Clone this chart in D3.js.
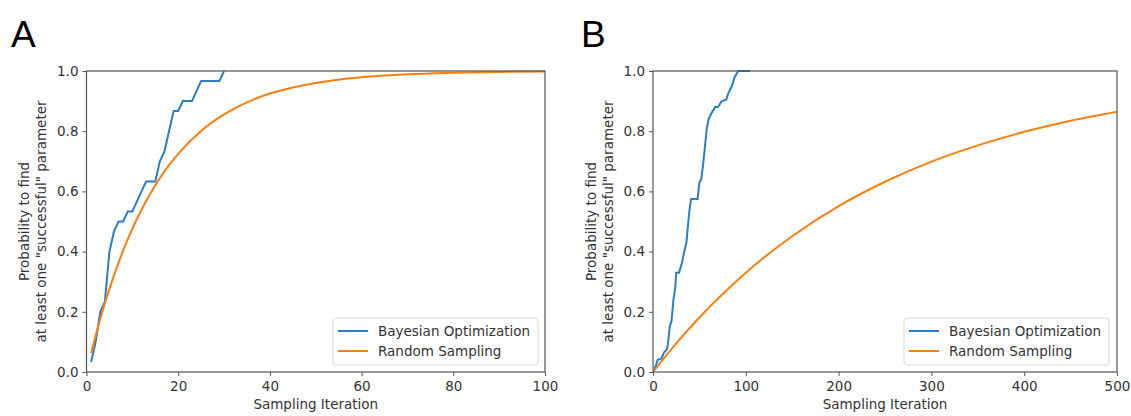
<!DOCTYPE html>
<html>
<head>
<meta charset="utf-8">
<script src="https://cdn.jsdelivr.net/npm/d3@7"></script>
<style>
  html, body { margin: 0; padding: 0; background: #fff; }
  svg { display: block; font-family: "DejaVu Sans", sans-serif; }
</style>
</head>
<body>
<svg id="chart" width="1131" height="416"></svg>
<script>
// ---------- data ----------
const panelLabels = ["A", "B"];
const seriesNames = ["Bayesian Optimization", "Random Sampling"];
const yTicks = [0.0, 0.2, 0.4, 0.6, 0.8, 1.0];
const xTicksA = [0, 20, 40, 60, 80, 100];
const xTicksB = [0, 100, 200, 300, 400, 500];

// Panel A (iteration, probability)
const bayesA_x = [1, 2, 3, 4, 5, 6, 7, 8, 9, 10, 11, 12, 13, 14, 15, 16, 17, 18, 19, 20, 21, 22, 23, 24, 25, 26, 27, 28, 29, 30];
const bayesA_y = [0.033, 0.1, 0.2, 0.233, 0.4, 0.467, 0.5, 0.5, 0.533, 0.533, 0.567, 0.6, 0.633, 0.633, 0.633, 0.7, 0.733, 0.8, 0.867, 0.867, 0.9, 0.9, 0.9, 0.933, 0.967, 0.967, 0.967, 0.967, 0.967, 1.0];
const randA_x = [1, 2, 3, 4, 5, 6, 8, 10, 12, 14, 16, 18, 20, 25, 30, 35, 40, 45, 50, 60, 70, 80, 90, 100];
const randA_y = [0.063, 0.121, 0.176, 0.228, 0.276, 0.321, 0.404, 0.476, 0.539, 0.595, 0.644, 0.687, 0.725, 0.801, 0.856, 0.896, 0.925, 0.945, 0.960, 0.979, 0.989, 0.994, 0.997, 0.998];

// Panel B
const bayesB_x = [1, 3, 5, 9, 12, 15, 16, 18, 20, 22, 24, 25, 28, 31, 33, 36, 39, 41, 48, 50, 52, 54, 58, 60, 63, 67, 70, 74, 79, 81, 85, 88, 92, 105];
const bayesB_y = [0.01, 0.02, 0.04, 0.045, 0.065, 0.075, 0.09, 0.15, 0.17, 0.24, 0.28, 0.33, 0.33, 0.36, 0.39, 0.43, 0.53, 0.575, 0.575, 0.63, 0.64, 0.69, 0.81, 0.84, 0.86, 0.88, 0.88, 0.90, 0.905, 0.925, 0.95, 0.98, 1.0, 1.0];
const randB_x = [0, 25, 50, 75, 100, 150, 200, 250, 300, 350, 400, 450, 500];
const randB_y = [0.0, 0.095, 0.181, 0.259, 0.330, 0.451, 0.551, 0.632, 0.699, 0.753, 0.798, 0.835, 0.865];

// ---------- drawing ----------
const svg = d3.select("#chart");
const COLORS = ["#2a7fc4", "#ff7f0e"];
const AXIS = "#555";
const TEXT = "#333";
const FS = "13.5px";

const panels = [
  { label: panelLabels[0], left: 86.5, right: 545, top: 71, bottom: 372, xDomain: [0, 100], xTicks: xTicksA,
    bx: bayesA_x, by: bayesA_y, rx: randA_x, ry: randA_y, labelX: 11, ylabX: 29, legX: 333 },
  { label: panelLabels[1], left: 653, right: 1117, top: 71, bottom: 372, xDomain: [0, 500], xTicks: xTicksB,
    bx: bayesB_x, by: bayesB_y, rx: randB_x, ry: randB_y, labelX: 581, ylabX: 596, legX: 904 }
];

panels.forEach((p, i) => {
  const x = d3.scaleLinear().domain(p.xDomain).range([p.left, p.right]);
  const y = d3.scaleLinear().domain([0, 1]).range([p.bottom, p.top]);
  const g = svg.append("g");

  const clipId = "clip" + i;
  svg.append("clipPath").attr("id", clipId).append("rect")
    .attr("x", p.left).attr("y", p.top - 1.5).attr("width", p.right - p.left).attr("height", p.bottom - p.top + 3);

  const line = d3.line().x(d => x(d[0])).y(d => y(d[1]));
  const bayes = p.bx.map((v, k) => [v, p.by[k]]);
  const rand = p.rx.map((v, k) => [v, p.ry[k]]);

  g.append("path").datum(bayes).attr("d", line).attr("fill", "none")
    .attr("stroke", COLORS[0]).attr("stroke-width", 2).attr("clip-path", `url(#${clipId})`);
  g.append("path").datum(rand).attr("d", line.curve(d3.curveMonotoneX)).attr("fill", "none")
    .attr("stroke", COLORS[1]).attr("stroke-width", 2).attr("clip-path", `url(#${clipId})`);

  // axes
  const xAxis = d3.axisBottom(x).tickValues(p.xTicks).tickFormat(d3.format("d")).tickSizeOuter(0).tickSize(4).tickPadding(5);
  const yAxis = d3.axisLeft(y).tickValues(yTicks).tickFormat(d3.format(".1f")).tickSizeOuter(0).tickSize(4).tickPadding(4);

  const gx = g.append("g").attr("transform", `translate(0,${p.bottom})`).call(xAxis);
  const gy = g.append("g").attr("transform", `translate(${p.left},0)`).call(yAxis);
  [gx, gy].forEach(a => {
    a.select(".domain").remove();
    a.selectAll("line").attr("stroke", AXIS).attr("stroke-width", 1);
    a.selectAll("text").attr("fill", TEXT).style("font-size", FS).style("font-family", "DejaVu Sans, sans-serif");
  });

  // spines
  g.append("rect").attr("x", p.left).attr("y", p.top).attr("width", p.right - p.left).attr("height", p.bottom - p.top)
    .attr("fill", "none").attr("stroke", AXIS).attr("stroke-width", 1.2);

  // x label
  g.append("text").attr("x", (p.left + p.right) / 2).attr("y", 409).attr("text-anchor", "middle")
    .attr("fill", TEXT).style("font-size", FS).text("Sampling Iteration");

  // y label (two lines)
  const cy = (p.top + p.bottom) / 2;
  const yl = g.append("text").attr("transform", `translate(${p.ylabX},${cy}) rotate(-90)`)
    .attr("text-anchor", "middle").attr("fill", TEXT).style("font-size", FS);
  yl.append("tspan").attr("x", 0).attr("y", 0).text("Probability to find");
  yl.append("tspan").attr("x", 0).attr("y", 16.5).text("at least one \"successful\" parameter");

  // panel label
  svg.append("text").attr("x", p.labelX).attr("y", 47).attr("fill", "#000")
    .style("font-size", "37px").style("font-family", "Liberation Sans, Arial, sans-serif").text(p.label);

  // legend
  const lg = g.append("g").attr("transform", `translate(${p.legX},318)`);
  lg.append("rect").attr("x", 0).attr("y", 0).attr("width", 205).attr("height", 47).attr("rx", 3)
    .attr("fill", "#fff").attr("fill-opacity", 0.85).attr("stroke", "#d8d8d8").attr("stroke-width", 1);
  seriesNames.forEach((n, k) => {
    const yy = 13 + k * 20;
    lg.append("line").attr("x1", 5).attr("x2", 35).attr("y1", yy).attr("y2", yy)
      .attr("stroke", COLORS[k]).attr("stroke-width", 2);
    lg.append("text").attr("x", 45).attr("y", yy + 5).attr("fill", TEXT).style("font-size", FS).text(n);
  });
});
</script>
</body>
</html>
